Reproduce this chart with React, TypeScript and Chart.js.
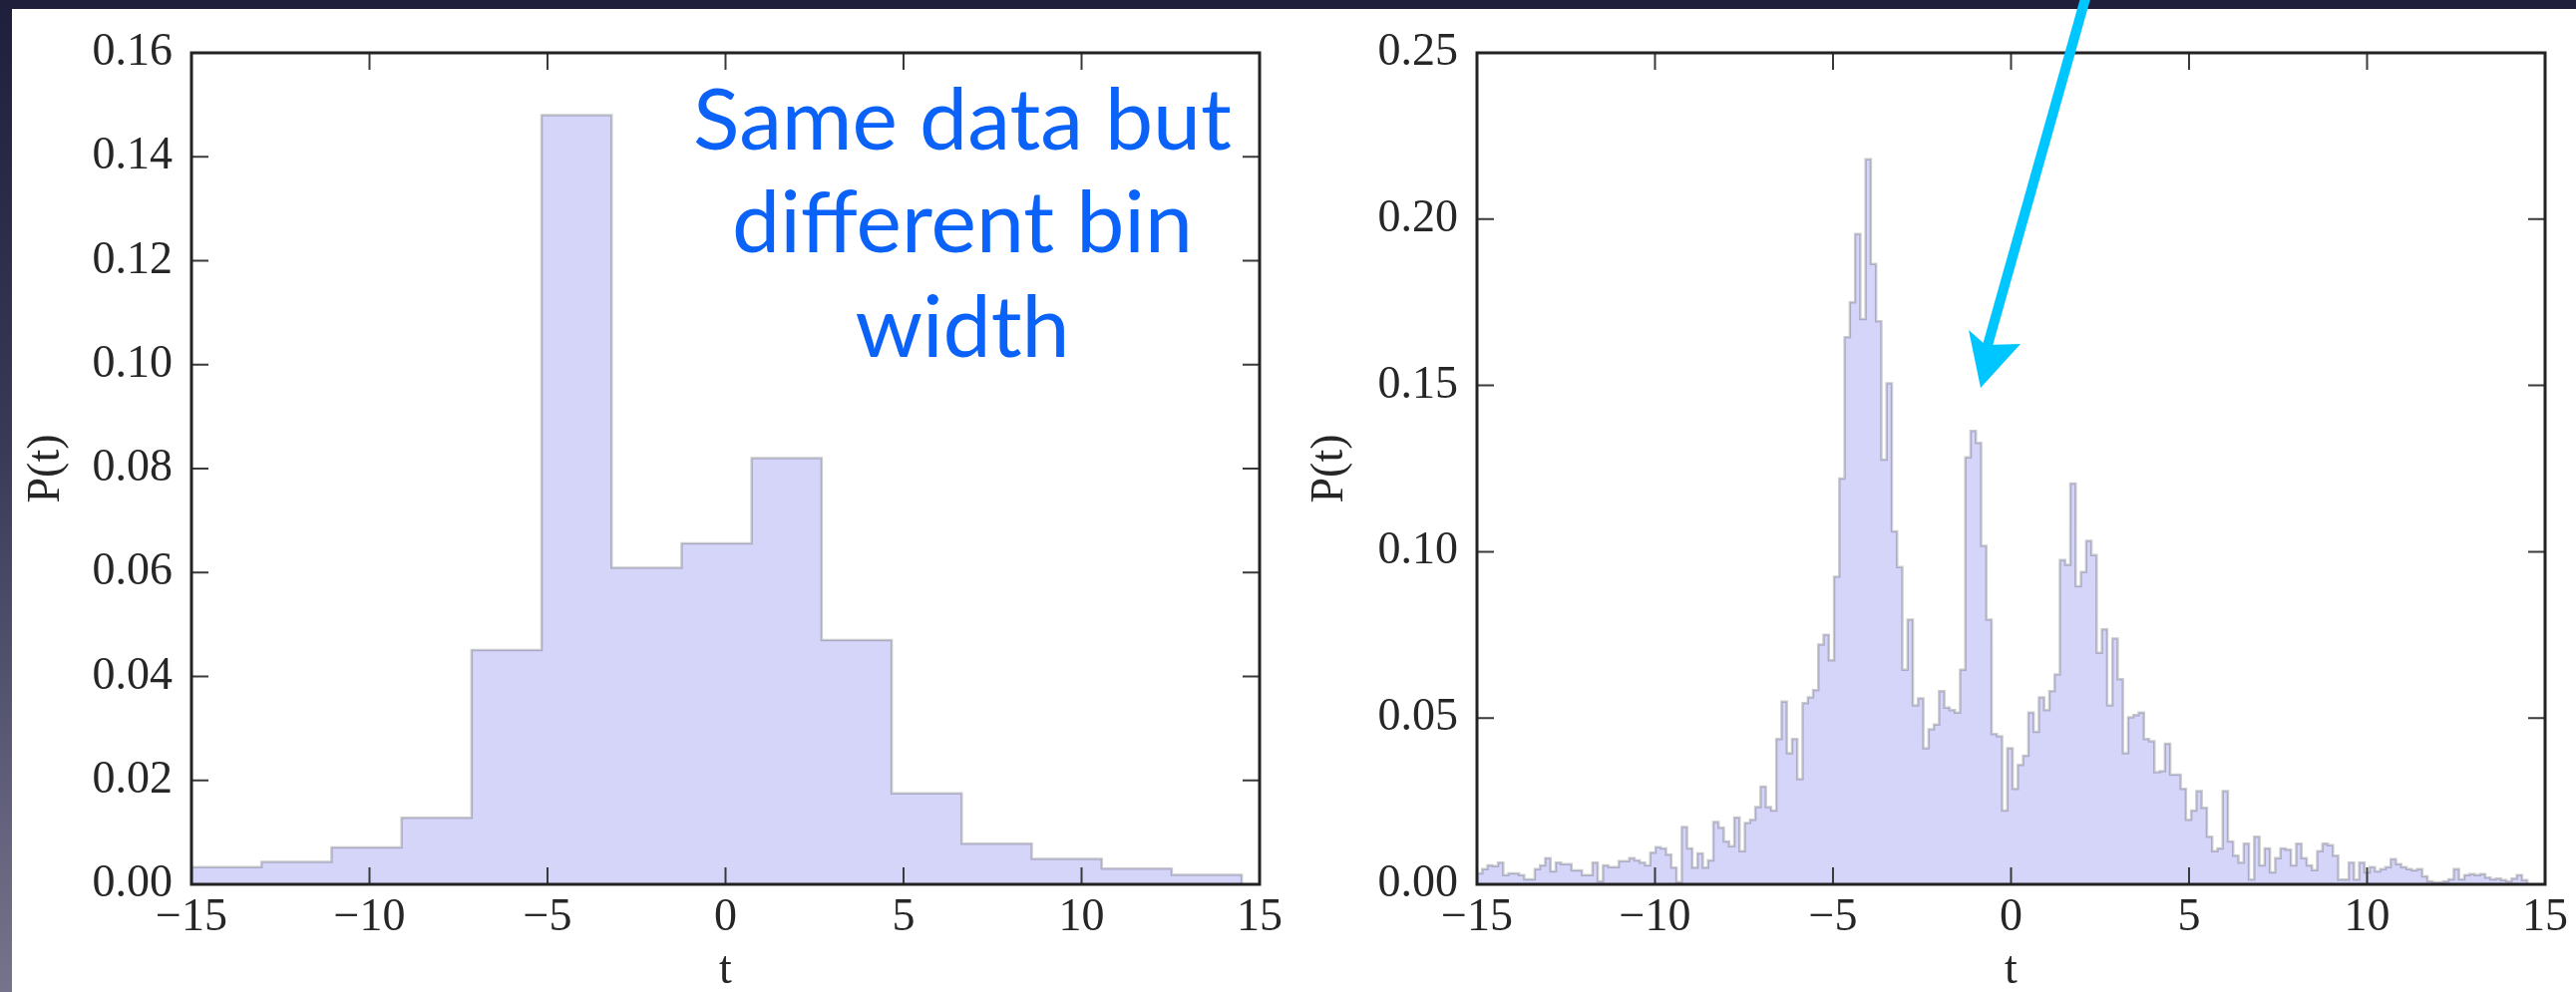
import React, { useEffect, useRef } from 'react';
import { Chart, registerables } from 'chart.js';

Chart.register(...registerables);

// ---------- data ----------
const X_TICKS = [-15, -10, -5, 0, 5, 10, 15];
const LEFT_Y_TICKS = [0, 0.02, 0.04, 0.06, 0.08, 0.1, 0.12, 0.14, 0.16];
const RIGHT_Y_TICKS = [0, 0.05, 0.1, 0.15, 0.2, 0.25];

const LEFT_BIN_START = -15;
const LEFT_BIN_WIDTH = 29.5 / 15;
const LEFT_VALUES = [
  0.0033, 0.0043, 0.0071, 0.0128, 0.0451, 0.148, 0.0609, 0.0656, 0.082, 0.047,
  0.0175, 0.0078, 0.0049, 0.003, 0.0018,
];

const RIGHT_BIN_START = -15;
const RIGHT_BIN_WIDTH = 29.5 / 200;
const RIGHT_VALUES = [
  0.0033, 0.0046, 0.0057, 0.0055, 0.0065, 0.0028, 0.0033, 0.0033, 0.0028, 0.0015,
  0.0015, 0.0046, 0.0057, 0.0079, 0.0039, 0.0065, 0.0061, 0.0061, 0.0042, 0.0042,
  0.0028, 0.0028, 0.0065, 0.0009, 0.0057, 0.0052, 0.0052, 0.007, 0.007, 0.0079,
  0.0072, 0.0065, 0.0057, 0.0095, 0.0112, 0.0108, 0.0089, 0.005, 0.0007, 0.0172,
  0.0108, 0.005, 0.0093, 0.005, 0.0072, 0.0187, 0.017, 0.0129, 0.0115, 0.0201,
  0.01, 0.0184, 0.0194, 0.0232, 0.0294, 0.0232, 0.0222, 0.0437, 0.0549, 0.0394,
  0.0437, 0.0316, 0.0545, 0.0562, 0.0584, 0.0721, 0.075, 0.0674, 0.0925, 0.122,
  0.1645, 0.175, 0.1955, 0.17, 0.218, 0.1865, 0.1693, 0.1277, 0.1506, 0.1061,
  0.0954, 0.0645, 0.0796, 0.0538, 0.0559, 0.0409, 0.0466, 0.048, 0.0581, 0.0531,
  0.0524, 0.0516, 0.0645, 0.1284, 0.1363, 0.1327, 0.1018, 0.0796, 0.0452, 0.0445,
  0.0222, 0.0409, 0.0287, 0.0359, 0.0387, 0.0516, 0.0459, 0.0562, 0.0524, 0.0581,
  0.0631, 0.0975, 0.0961, 0.1205, 0.0896, 0.0939, 0.1033, 0.099, 0.0696, 0.0767,
  0.0538, 0.0739, 0.0617, 0.0394, 0.0502, 0.0509, 0.0516, 0.0437, 0.043, 0.0337,
  0.034, 0.0423, 0.033, 0.033, 0.0287, 0.0194, 0.0222, 0.028, 0.023, 0.0143,
  0.01, 0.0108, 0.028, 0.0129, 0.0086, 0.0065, 0.0122, 0.0014, 0.0143, 0.0057,
  0.0108, 0.0036, 0.0079, 0.0108, 0.0104, 0.0057, 0.0122, 0.0079, 0.0057, 0.0043,
  0.01, 0.0122, 0.0118, 0.0086, 0.0014, 0.0014, 0.0065, 0.0014, 0.0065, 0.0036,
  0.0052, 0.0039, 0.0046, 0.0052, 0.0076, 0.0061, 0.0052, 0.0046, 0.0042, 0.0046,
  0.0024, 0.0009, 0.0006, 0.0006, 0.0009, 0.0015, 0.0046, 0.0015, 0.0028, 0.0031,
  0.0028, 0.0031, 0.002, 0.0015, 0.0017, 0.0013, 0.0009, 0.0017, 0.0028, 0.0013,
];

const ANNOTATION_LINES = ['Same data but', 'different bin', 'width'];

// ---------- helpers ----------
function histPoints(start: number, width: number, values: number[]) {
  const pts: { x: number; y: number }[] = [{ x: start, y: 0 }];
  values.forEach((v, i) => pts.push({ x: start + i * width, y: v }));
  pts.push({ x: start + values.length * width, y: 0 });
  return pts;
}

const TICK_FONT = { family: "'Liberation Serif', 'DejaVu Serif', serif", size: 46 };
const TEXT_COLOR = '#262626';

const framePlugin = {
  id: 'frameTicks',
  afterDatasetsDraw(chart: any) {
    const { ctx, chartArea } = chart;
    const { left, right, top, bottom } = chartArea;
    const xs = chart.scales.x;
    const ys = chart.scales.y;
    const L = 17;
    ctx.save();
    ctx.strokeStyle = '#3a3a3a';
    ctx.lineWidth = 2;
    ctx.beginPath();
    xs.ticks.forEach((t: any) => {
      const px = xs.getPixelForValue(t.value);
      ctx.moveTo(px, bottom);
      ctx.lineTo(px, bottom - L);
      ctx.moveTo(px, top);
      ctx.lineTo(px, top + L);
    });
    ys.ticks.forEach((t: any) => {
      const py = ys.getPixelForValue(t.value);
      ctx.moveTo(left, py);
      ctx.lineTo(left + L, py);
      ctx.moveTo(right, py);
      ctx.lineTo(right - L, py);
    });
    ctx.stroke();
    ctx.strokeStyle = '#222';
    ctx.lineWidth = 3;
    ctx.strokeRect(left, top, right - left, bottom - top);
    ctx.restore();
  },
};

function makeConfig(opts: {
  values: number[];
  start: number;
  width: number;
  yMax: number;
  yTicks: number[];
  yAxisWidth: number;
  yTitlePad: number;
  rightPad: number;
}) {
  return {
    type: 'line' as const,
    data: {
      datasets: [
        {
          data: histPoints(opts.start, opts.width, opts.values),
          stepped: 'before' as const,
          fill: 'origin',
          backgroundColor: 'rgb(213,213,250)',
          borderColor: 'rgba(0,0,0,0.2)',
          borderWidth: 2.5,
          pointRadius: 0,
          tension: 0,
        },
      ],
    },
    options: {
      responsive: false,
      animation: false as const,
      devicePixelRatio: 1,
      layout: { padding: { top: 53, right: opts.rightPad, left: 0, bottom: 0 } },
      plugins: { legend: { display: false }, tooltip: { enabled: false } },
      scales: {
        x: {
          type: 'linear' as const,
          min: -15,
          max: 15,
          afterBuildTicks: (s: any) => {
            s.ticks = X_TICKS.map((v) => ({ value: v }));
          },
          afterFit: (s: any) => {
            s.height = 108;
          },
          grid: { display: false, drawTicks: false },
          border: { display: false },
          ticks: {
            autoSkip: false,
            maxRotation: 0,
            padding: 6,
            font: TICK_FONT,
            color: TEXT_COLOR,
            callback: (v: any) => (v < 0 ? '\u2212' + Math.abs(v) : String(v)),
          },
          title: {
            display: true,
            text: 't',
            font: { ...TICK_FONT, lineHeight: 0.9 },
            color: TEXT_COLOR,
            padding: { top: 0, bottom: 0 },
          },
        },
        y: {
          type: 'linear' as const,
          min: 0,
          max: opts.yMax,
          afterBuildTicks: (s: any) => {
            s.ticks = opts.yTicks.map((v) => ({ value: v }));
          },
          afterFit: (s: any) => {
            s.width = opts.yAxisWidth;
          },
          grid: { display: false, drawTicks: false },
          border: { display: false },
          ticks: {
            autoSkip: false,
            padding: 19,
            font: TICK_FONT,
            color: TEXT_COLOR,
            callback: (v: any) => Number(v).toFixed(2),
          },
          title: {
            display: true,
            text: 'P(t)',
            font: { ...TICK_FONT, lineHeight: 1 },
            color: TEXT_COLOR,
            padding: { top: opts.yTitlePad, bottom: 0 },
          },
        },
      },
    },
    plugins: [framePlugin],
  };
}

export default function App() {
  const leftRef = useRef<HTMLCanvasElement | null>(null);
  const rightRef = useRef<HTMLCanvasElement | null>(null);

  useEffect(() => {
    document.body.style.margin = '0';
    const c1 = new Chart(
      leftRef.current as HTMLCanvasElement,
      makeConfig({
        values: LEFT_VALUES,
        start: LEFT_BIN_START,
        width: LEFT_BIN_WIDTH,
        yMax: 0.16,
        yTicks: LEFT_Y_TICKS,
        yAxisWidth: 192,
        yTitlePad: 24,
        rightPad: 37,
      }) as any
    );
    const c2 = new Chart(
      rightRef.current as HTMLCanvasElement,
      makeConfig({
        values: RIGHT_VALUES,
        start: RIGHT_BIN_START,
        width: RIGHT_BIN_WIDTH,
        yMax: 0.25,
        yTicks: RIGHT_Y_TICKS,
        yAxisWidth: 181,
        yTitlePad: 11,
        rightPad: 31,
      }) as any
    );
    return () => {
      c1.destroy();
      c2.destroy();
    };
  }, []);

  return (
    <div
      style={{
        position: 'absolute',
        left: 0,
        top: 0,
        width: 2583,
        height: 995,
        overflow: 'hidden',
        background: '#ffffff',
      }}
    >
      <div style={{ position: 'absolute', left: 0, top: 0, width: 2583, height: 9, background: '#1f1f3b' }} />
      <div
        style={{
          position: 'absolute',
          left: 0,
          top: 0,
          width: 12,
          height: 995,
          background: 'linear-gradient(to bottom, #1f1f3b 0%, #3a3a58 45%, #76748c 100%)',
        }}
      />
      <canvas ref={leftRef} width={1300} height={995} style={{ position: 'absolute', left: 0, top: 0 }} />
      <canvas ref={rightRef} width={1283} height={995} style={{ position: 'absolute', left: 1300, top: 0 }} />
      <svg
        width={2583}
        height={995}
        style={{ position: 'absolute', left: 0, top: 0, pointerEvents: 'none' }}
      >
        <g fontFamily="Lato, 'Open Sans', sans-serif" fontSize={86} fill="#0a62f8" textAnchor="middle">
          <text x={965} y={150}>{ANNOTATION_LINES[0]}</text>
          <text x={965} y={253}>{ANNOTATION_LINES[1]}</text>
          <text x={965} y={358}>{ANNOTATION_LINES[2]}</text>
        </g>
        <line x1={2092} y1={-5} x2={1992} y2={350} stroke="#00c6ff" strokeWidth={10} />
        <polygon points="1986,389 1974,331 1991,346 2026,345" fill="#00c6ff" />
      </svg>
    </div>
  );
}
